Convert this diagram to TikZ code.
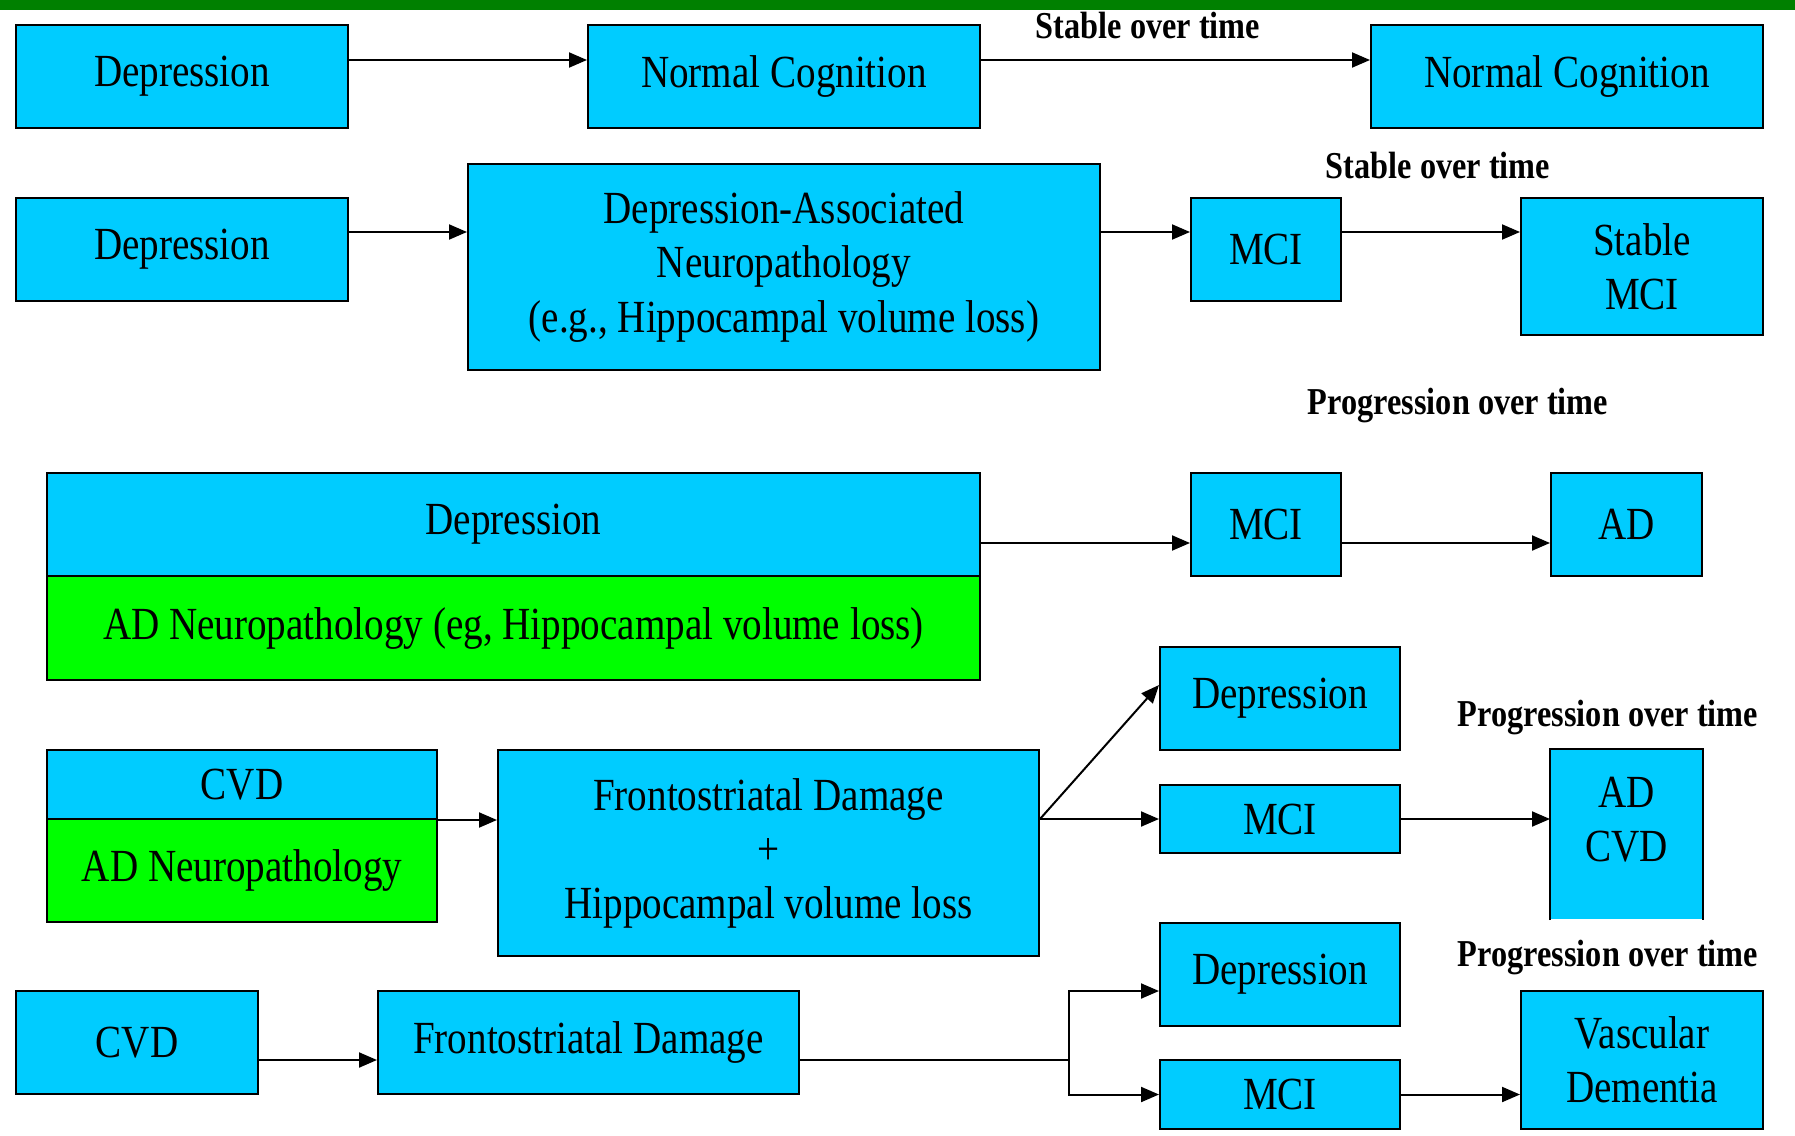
\documentclass[tikz,border=0pt]{standalone}
\usepackage{fontspec}
\setmainfont{Liberation Serif}[FakeStretch=0.85]
\usetikzlibrary{arrows.meta}
\definecolor{boxblue}{HTML}{00CCFF}
\definecolor{boxgreen}{HTML}{00FF00}
\definecolor{bargreen}{HTML}{008000}
\tikzset{
  box/.style={draw=black, line width=2pt, fill=boxblue, inner sep=0pt, align=center, font=\fontsize{46}{54}\selectfont},
  gbox/.style={box, fill=boxgreen},
  arr/.style={line width=2pt, -{Triangle[length=18pt,width=15pt]}},
  ln/.style={line width=2pt},
  lbl/.style={font=\fontsize{38}{44}\selectfont\bfseries, inner sep=0pt},
}
\begin{document}
\begin{tikzpicture}[x=1pt,y=-1pt]
\useasboundingbox (0,0) rectangle (1795,1135);
\fill[white] (0,0) rectangle (1795,1135);
\fill[bargreen] (0,0) rectangle (1795,10);

% Row 1
\node[box, minimum width=332pt, minimum height=103pt] (dep1) at (182,76.5) {Depression};
\node[box, minimum width=392pt, minimum height=103pt] (nc1) at (784,76.5) {Normal Cognition};
\node[box, minimum width=392pt, minimum height=103pt] (nc2) at (1567,76.5) {Normal Cognition};
\node[lbl] (l1) at (1148,26) {Stable over time};
\draw[arr] (dep1.east |- 0,60) -- (nc1.west |- 0,60);
\draw[arr] (nc1.east |- 0,60) -- (nc2.west |- 0,60);

% Row 2
\node[box, minimum width=332pt, minimum height=103pt] (dep2) at (182,249.5) {Depression};
\node[box, minimum width=632pt, minimum height=206pt] (dan) at (784,267) {Depression-Associated\\Neuropathology\\(e.g., Hippocampal volume loss)};
\node[box, minimum width=150pt, minimum height=103pt] (mci2) at (1266,249.5) {MCI};
\node[box, minimum width=242pt, minimum height=137pt] (smci) at (1642,266.5) {Stable\\MCI};
\node[lbl] (l2) at (1438,165) {Stable over time};
\draw[arr] (dep2.east |- 0,232) -- (dan.west |- 0,232);
\draw[arr] (dan.east |- 0,232) -- (mci2.west |- 0,232);
\draw[arr] (mci2.east |- 0,232) -- (smci.west |- 0,232);

% Row 3
\node[box, minimum width=933pt, minimum height=103pt] (dep3) at (513.5,524.5) {Depression};
\node[gbox, minimum width=933pt, minimum height=104pt] (adn3) at (513.5,628) {AD Neuropathology (eg, Hippocampal volume loss)};
\node[box, minimum width=150pt, minimum height=103pt] (mci3) at (1266,524.5) {MCI};
\node[box, minimum width=151pt, minimum height=103pt] (ad3) at (1626.5,524.5) {AD};
\node[lbl] (l3) at (1458,406) {Progression over time};
\draw[arr] (dep3.east |- 0,543) -- (mci3.west |- 0,543);
\draw[arr] (mci3.east |- 0,543) -- (ad3.west |- 0,543);

% Row 4
\node[box, minimum width=390pt, minimum height=69pt] (cvd4) at (242,784.5) {CVD};
\node[gbox, minimum width=390pt, minimum height=103pt] (adn4) at (242,870.5) {AD Neuropathology};
\node[box, minimum width=541pt, minimum height=206pt] (fsd4) at (768.5,853) {Frontostriatal Damage\\+\\Hippocampal volume loss};
\node[box, minimum width=240pt, minimum height=103pt] (dep4) at (1280,698.5) {Depression};
\node[box, minimum width=240pt, minimum height=68pt] (mci4) at (1280,819) {MCI};
\node[box, draw=none, minimum width=151pt, minimum height=169pt,
      label={[align=center, inner sep=0pt, font=\fontsize{46}{54}\selectfont, yshift=15pt]center:{AD\\CVD}}] (adcvd) at (1626.5,834.5) {};
\draw[ln] (adcvd.south west) -- (adcvd.north west) -- (adcvd.north east) -- (adcvd.south east);
\node[lbl] (l4) at (1608,717) {Progression over time};
\draw[arr] (cvd4.south east) -- (fsd4.west |- cvd4.south east);
\draw[arr] (fsd4.east |- mci4.west) -- (mci4.west);
\draw[arr] (fsd4.east |- mci4.west) -- (dep4.west |- 0,685);
\draw[arr] (mci4.east) -- (adcvd.west |- mci4.east);

% Row 5
\node[box, minimum width=242pt, minimum height=103pt] (cvd5) at (137,1042.5) {CVD};
\node[box, minimum width=421pt, minimum height=103pt] (fsd5) at (588.5,1042.5) {Frontostriatal Damage};
\node[box, minimum width=240pt, minimum height=103pt] (dep5) at (1280,974.5) {Depression};
\node[box, minimum width=240pt, minimum height=69pt] (mci5) at (1280,1094.5) {MCI};
\node[box, minimum width=242pt, minimum height=138pt] (vd) at (1642,1060) {Vascular\\Dementia};
\node[lbl] (l5) at (1608,957) {Progression over time};
\coordinate (br) at (1069,1060);
\draw[arr] (cvd5.east |- br) -- (fsd5.west |- br);
\draw[ln] (fsd5.east |- br) -- (br);
\draw[arr] (br) |- (dep5.west |- 0,991);
\draw[arr] (br) |- (mci5.west);
\draw[arr] (mci5.east) -- (vd.west |- mci5.east);
\end{tikzpicture}
\end{document}
